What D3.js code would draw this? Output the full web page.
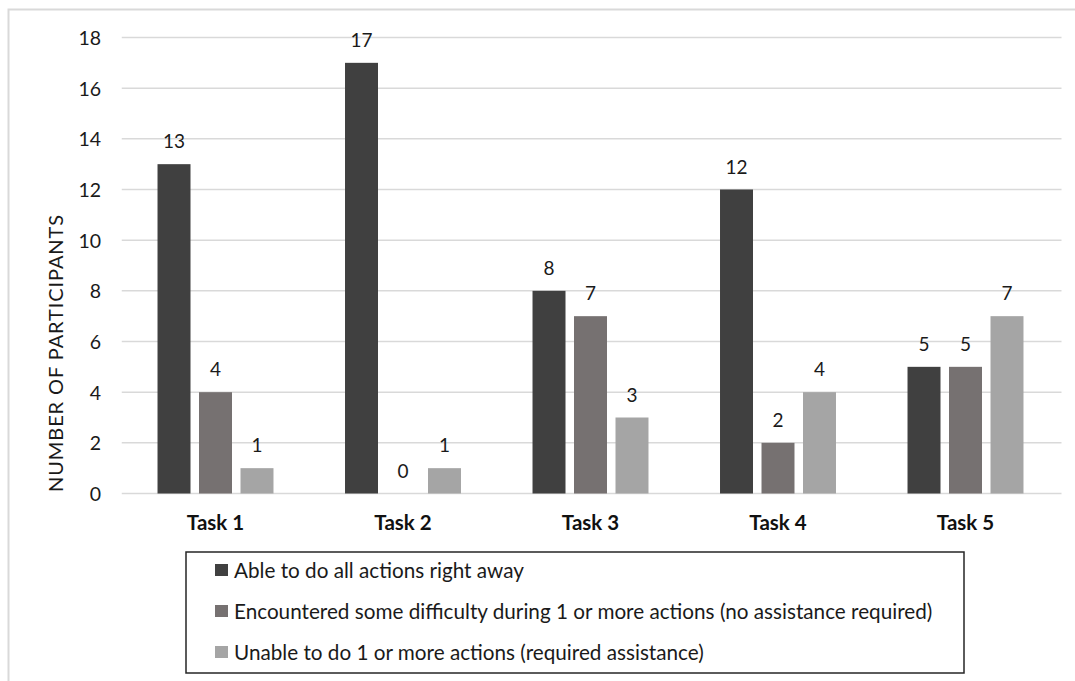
<!DOCTYPE html>
<html>
<head>
<meta charset="utf-8">
<script src="https://cdn.jsdelivr.net/npm/d3@7"></script>
<style>
  html, body { margin: 0; padding: 0; background: #fff; }
  svg { display: block; font-family: Lato, "Open Sans", sans-serif; }
</style>
</head>
<body>
<svg id="chart" width="1075" height="681"></svg>
<script>
// Task outcomes per participant group
const tasks = ["Task 1", "Task 2", "Task 3", "Task 4", "Task 5"];
const seriesNames = [
  "Able to do all actions right away",
  "Encountered some difficulty during 1 or more actions (no assistance required)",
  "Unable to do 1 or more actions (required assistance)"
];
const ableValues = [13, 17, 8, 12, 5];
const difficultyValues = [4, 0, 7, 2, 5];
const unableValues = [1, 1, 3, 4, 7];
const yTicks = [0, 2, 4, 6, 8, 10, 12, 14, 16, 18];
const yTitle = "NUMBER OF PARTICIPANTS";

const seriesValues = [ableValues, difficultyValues, unableValues];
const colors = ["#404040", "#767171", "#a5a5a5"];

const svg = d3.select("#chart");

// outer frame (top and left edges visible)
svg.append("path")
  .attr("d", "M8.5,681 L8.5,9.5 L1075,9.5")
  .attr("fill", "none")
  .attr("stroke", "#d9d9d9")
  .attr("stroke-width", 2);

const plotLeft = 121.75, plotRight = 1059.25;
const x0 = d3.scaleBand().domain(tasks).range([plotLeft, plotRight]);
const x1 = d3.scaleBand().domain(d3.range(3))
  .range([0, x0.bandwidth()])
  .paddingInner(0.205)
  .paddingOuter(0.862);
const y = d3.scaleLinear().domain([0, 18]).range([493.5, 37.5]);

// gridlines
svg.append("g").selectAll("line").data(yTicks).join("line")
  .attr("x1", plotLeft).attr("x2", 1061.5)
  .attr("y1", d => y(d)).attr("y2", d => y(d))
  .attr("stroke", "#d9d9d9").attr("stroke-width", 1.5);

// y tick labels
svg.append("g").selectAll("text").data(yTicks).join("text")
  .attr("x", 101).attr("y", d => y(d))
  .attr("text-anchor", "end")
  .attr("dominant-baseline", "central")
  .attr("font-size", 19.5)
  .attr("fill", "#1a1a1a")
  .text(d => d);

// y axis title
svg.append("text")
  .attr("transform", "translate(63,353) rotate(-90)")
  .attr("text-anchor", "middle")
  .attr("font-size", 20)
  .attr("letter-spacing", 0.9)
  .attr("fill", "#1a1a1a")
  .text(yTitle);

// bars + value labels
const groups = svg.append("g").selectAll("g").data(tasks).join("g")
  .attr("transform", d => `translate(${x0(d)},0)`);

groups.selectAll("rect")
  .data((t, i) => seriesValues.map((vals, s) => ({ s, v: vals[i] })))
  .join("rect")
  .attr("x", d => x1(d.s))
  .attr("width", x1.bandwidth())
  .attr("y", d => y(d.v))
  .attr("height", d => y(0) - y(d.v))
  .attr("fill", d => colors[d.s]);

groups.selectAll("text.val")
  .data((t, i) => seriesValues.map((vals, s) => ({ s, v: vals[i] })))
  .join("text")
  .attr("class", "val")
  .attr("x", d => x1(d.s) + x1.bandwidth() / 2)
  .attr("y", d => y(d.v) - 16)
  .attr("text-anchor", "middle")
  .attr("font-size", 19)
  .attr("fill", "#1a1a1a")
  .text(d => d.v);

// category labels
svg.append("g").selectAll("text").data(tasks).join("text")
  .attr("x", d => x0(d) + x0.bandwidth() / 2)
  .attr("y", 522)
  .attr("text-anchor", "middle")
  .attr("dominant-baseline", "central")
  .attr("font-size", 20.5)
  .attr("font-weight", "bold")
  .attr("fill", "#111")
  .text(d => d);

// legend
const legend = svg.append("g");
legend.append("rect")
  .attr("x", 186).attr("y", 552)
  .attr("width", 778).attr("height", 121)
  .attr("fill", "#fff")
  .attr("stroke", "#262626").attr("stroke-width", 1.5);

const legendRows = [570, 611, 652];
const items = legend.selectAll("g").data(seriesNames).join("g")
  .attr("transform", (d, i) => `translate(0,${legendRows[i]})`);
items.append("rect")
  .attr("x", 215).attr("y", -6)
  .attr("width", 13).attr("height", 12)
  .attr("fill", (d, i) => colors[i]);
items.append("text")
  .attr("x", 234).attr("y", 0)
  .attr("dominant-baseline", "central")
  .attr("font-size", 20.7)
  .attr("fill", "#1a1a1a")
  .text(d => d);
</script>
</body>
</html>
